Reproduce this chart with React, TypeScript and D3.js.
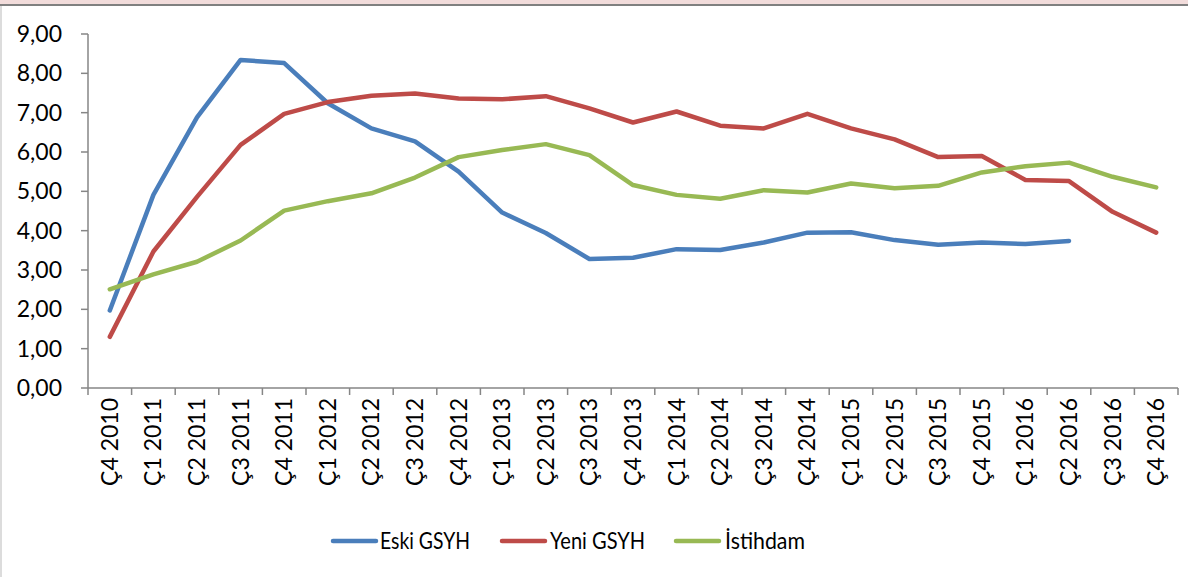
import React from "react";
import * as d3 from "d3";

const categories = [
  "Ç4 2010", "Ç1 2011", "Ç2 2011", "Ç3 2011", "Ç4 2011",
  "Ç1 2012", "Ç2 2012", "Ç3 2012", "Ç4 2012",
  "Ç1 2013", "Ç2 2013", "Ç3 2013", "Ç4 2013",
  "Ç1 2014", "Ç2 2014", "Ç3 2014", "Ç4 2014",
  "Ç1 2015", "Ç2 2015", "Ç3 2015", "Ç4 2015",
  "Ç1 2016", "Ç2 2016", "Ç3 2016", "Ç4 2016",
];

const eskiGSYH: (number | null)[] = [
  1.97, 4.91, 6.88, 8.34, 8.26, 7.24, 6.6, 6.27, 5.5, 4.46, 3.94, 3.28, 3.31,
  3.53, 3.51, 3.7, 3.95, 3.96, 3.76, 3.64, 3.7, 3.66, 3.74, null, null,
];
const yeniGSYH = [
  1.3, 3.47, 4.86, 6.18, 6.97, 7.27, 7.43, 7.49, 7.36, 7.34, 7.42, 7.11, 6.75,
  7.03, 6.67, 6.6, 6.97, 6.6, 6.32, 5.87, 5.9, 5.29, 5.26, 4.48, 3.95,
];
const istihdam = [
  2.51, 2.89, 3.21, 3.75, 4.51, 4.75, 4.95, 5.35, 5.87, 6.05, 6.2, 5.92, 5.16,
  4.91, 4.81, 5.03, 4.97, 5.2, 5.08, 5.14, 5.48, 5.64, 5.73, 5.37, 5.1,
];

const yTicks = [0, 1, 2, 3, 4, 5, 6, 7, 8, 9];
const seriesNames = ["Eski GSYH", "Yeni GSYH", "İstihdam"];
const seriesColors = ["#4a7ebb", "#be4b48", "#98b954"];

const W = 1188;
const H = 577;
const left = 88;
const right = 1178;
const top = 34;
const bottom = 388;
const font = "Lato, 'Open Sans', sans-serif";
const axisColor = "#868686";

export default function App() {
  const x = d3.scaleBand<string>().domain(categories).range([left, right]);
  const y = d3.scaleLinear().domain([0, 9]).range([bottom, top]);
  const cx = (c: string) => (x(c) as number) + x.bandwidth() / 2;
  const line = d3
    .line<number | null>()
    .defined((d) => d !== null)
    .x((_, i) => cx(categories[i]))
    .y((d) => y(d as number));
  const allSeries = [eskiGSYH, yeniGSYH, istihdam];
  const tickXs = categories.map((c) => x(c) as number).concat([right]);

  const legendItems = [
    { lx: 333, tx: 380, tw: 90 },
    { lx: 502, tx: 550, tw: 95 },
    { lx: 676, tx: 725, tw: 80 },
  ];

  return (
    <svg
      width={W}
      height={H}
      style={{ position: "absolute", left: 0, top: 0, background: "#fff" }}
    >
      <rect x={0} y={0} width={W} height={4} fill="#f2dcdb" />
      <rect x={0} y={4} width={W} height={2} fill="#808080" />
      <line x1={1} x2={1} y1={6} y2={H} stroke="#d0d0d0" strokeWidth={1.5} />

      {/* y axis */}
      <line x1={left} x2={left} y1={top} y2={bottom} stroke={axisColor} strokeWidth={1.5} />
      {yTicks.map((t) => (
        <g key={t}>
          <line x1={left - 7} x2={left} y1={y(t)} y2={y(t)} stroke={axisColor} strokeWidth={1.5} />
          <text
            x={62}
            y={y(t)}
            dy="0.35em"
            textAnchor="end"
            fontFamily={font}
            fontSize={23}
            fill="#000"
          >
            {d3.format(".2f")(t).replace(".", ",")}
          </text>
        </g>
      ))}

      {/* x axis */}
      <line x1={left} x2={right} y1={bottom} y2={bottom} stroke={axisColor} strokeWidth={1.5} />
      {tickXs.map((tx, i) => (
        <line key={i} x1={tx} x2={tx} y1={bottom} y2={bottom + 7} stroke={axisColor} strokeWidth={1.5} />
      ))}
      {categories.map((c) => (
        <text
          key={c}
          transform={`translate(${cx(c) + 8},${398}) rotate(-90)`}
          textAnchor="end"
          fontFamily={font}
          fontSize={23}
          fill="#000"
        >
          {c}
        </text>
      ))}

      {/* lines */}
      {allSeries.map((s, i) => (
        <path
          key={i}
          d={line(s) || ""}
          fill="none"
          stroke={seriesColors[i]}
          strokeWidth={4.5}
          strokeLinejoin="round"
          strokeLinecap="round"
        />
      ))}

      {/* legend */}
      {seriesNames.map((n, i) => (
        <g key={n}>
          <line
            x1={legendItems[i].lx}
            x2={legendItems[i].lx + 43}
            y1={541}
            y2={541}
            stroke={seriesColors[i]}
            strokeWidth={4.5}
            strokeLinecap="round"
          />
          <text
            x={legendItems[i].tx}
            y={541}
            dy="0.35em"
            fontFamily={font}
            fontSize={23}
            textLength={legendItems[i].tw}
            lengthAdjust="spacingAndGlyphs"
            fill="#000"
          >
            {n}
          </text>
        </g>
      ))}
    </svg>
  );
}
